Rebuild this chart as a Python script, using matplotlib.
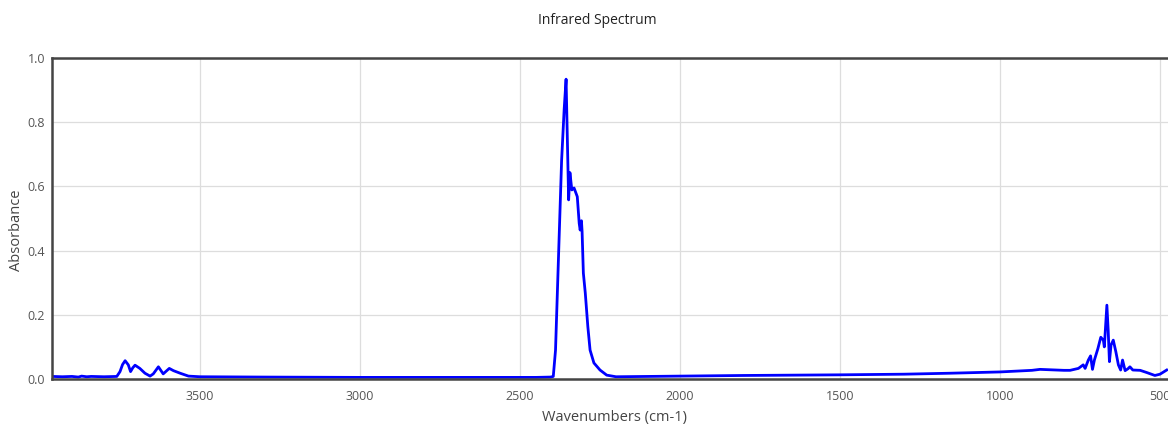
#!/usr/bin/env python3
"""Plot an infrared absorbance spectrum (wavenumber axis reversed)."""

import matplotlib
matplotlib.use("Agg")
import matplotlib.pyplot as plt

# wavenumbers (cm-1) and absorbance, high -> low
wavenumber = [
    3962, 3930, 3900, 3880, 3870, 3854, 3840, 3800, 3760, 3750, 3742, 3734,
    3724, 3717, 3710, 3703, 3688, 3672, 3656, 3646, 3630, 3615, 3596, 3583,
    3562, 3536, 3500, 3300, 3000, 2700, 2450, 2405, 2396, 2389, 2380, 2370,
    2362, 2356, 2348, 2344, 2338, 2331, 2321, 2315, 2312, 2308, 2306, 2302,
    2296, 2288, 2281, 2269, 2250, 2229, 2200, 2000, 1800, 1500, 1300, 1156,
    1000, 900, 875, 800, 781, 755, 740, 734, 724, 717, 711, 705, 694, 685,
    677, 674, 666, 662, 658, 653, 646, 638, 630, 623, 617, 609, 600, 594,
    585, 562, 541, 516, 500, 479,
]
absorbance = [
    0.008, 0.007, 0.008, 0.006, 0.009, 0.007, 0.008, 0.007, 0.008, 0.023, 0.045, 0.057,
    0.044, 0.023, 0.035, 0.043, 0.033, 0.018, 0.009, 0.016, 0.038, 0.016, 0.033, 0.026,
    0.018, 0.009, 0.007, 0.006, 0.005, 0.005, 0.005, 0.006, 0.008, 0.090, 0.370, 0.680,
    0.840, 0.934, 0.558, 0.643, 0.589, 0.595, 0.568, 0.485, 0.464, 0.493, 0.460, 0.330,
    0.268, 0.163, 0.090, 0.050, 0.028, 0.012, 0.007, 0.009, 0.011, 0.013, 0.015, 0.018,
    0.022, 0.027, 0.030, 0.027, 0.027, 0.033, 0.044, 0.033, 0.059, 0.072, 0.030, 0.059,
    0.095, 0.130, 0.121, 0.100, 0.230, 0.153, 0.054, 0.106, 0.121, 0.085, 0.044, 0.028,
    0.059, 0.026, 0.032, 0.038, 0.028, 0.027, 0.020, 0.011, 0.015, 0.028,
]

x_ticks = [3500, 3000, 2500, 2000, 1500, 1000, 500]
y_ticks = [0.0, 0.2, 0.4, 0.6, 0.8, 1.0]

plt.rcParams["font.family"] = ["Open Sans", "DejaVu Sans"]

W, H = 1168, 425
fig = plt.figure(figsize=(W / 100, H / 100), dpi=100)
ax = fig.add_axes([52 / W, 46 / H, 1116 / W, 321 / H])

ax.plot(wavenumber, absorbance, color="#0000ff", linewidth=2, solid_joinstyle="round")

ax.set_xlim(3962.5, 475)
ax.set_ylim(0, 1.0)
ax.set_xticks(x_ticks)
ax.set_xticklabels([str(t) for t in x_ticks])
ax.set_yticks(y_ticks)
ax.set_yticklabels([f"{t:.1f}" for t in y_ticks])
ax.grid(True, color="#dddddd", linewidth=0.9)
ax.set_axisbelow(True)
ax.tick_params(length=0, labelsize=9, labelcolor="#555555")
ax.tick_params(axis="x", pad=8)
ax.tick_params(axis="y", pad=5)

for side in ("left", "top", "bottom"):
    ax.spines[side].set_color("#444444")
    ax.spines[side].set_linewidth(1.8)
ax.spines["right"].set_visible(False)

# axis titles and chart title placed in figure pixels
fig.text(614 / W, 1 - 418 / H, "Wavenumbers (cm-1)", ha="center", va="center",
         fontsize=10.5, color="#444444")
fig.text(17 / W, 1 - 230 / H, "Absorbance", ha="center", va="center",
         rotation=90, fontsize=10.5, color="#444444")
fig.text(597 / W, 1 - 20 / H, "Infrared Spectrum", ha="center", va="center",
         fontsize=10, color="#222222")

fig.savefig("out.png", dpi=100)
